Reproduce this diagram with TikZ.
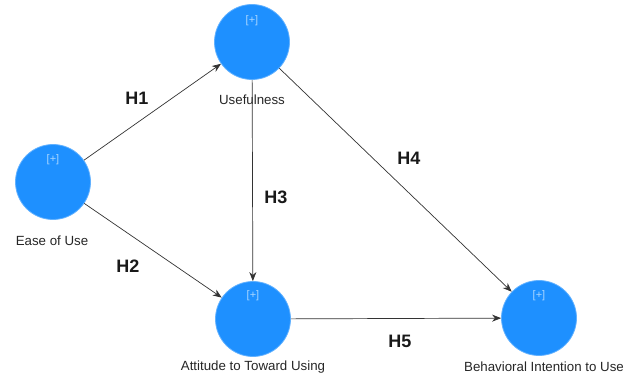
\documentclass[tikz,border=0pt]{standalone}
\usepackage{fontspec}
\setmainfont{Liberation Sans}
\usetikzlibrary{arrows.meta}
\definecolor{lvblue}{RGB}{30,144,255}
\definecolor{plus}{RGB}{170,215,255}
\tikzset{
  lv/.style={circle, fill=lvblue, draw=lvblue!70!white, line width=0.8pt, minimum size=75pt, inner sep=0pt},
  lbl/.style={font=\fontsize{13.3}{15}\selectfont, text=black!85},
  hyp/.style={font=\fontsize{18}{20}\selectfont\bfseries, text=black!90},
  pl/.style={font=\fontsize{11}{13}\selectfont, text=plus},
  path/.style={draw=black!80, line width=0.7pt, -{Stealth[length=9pt,width=7pt]}}
}
\begin{document}
\begin{tikzpicture}[x=1pt,y=-1pt]
\useasboundingbox (0,0) rectangle (632,379);
\node[lv] (eou) at (53,182) {};
\node[lv] (use) at (252,42) {};
\node[lv] (att) at (253,319) {};
\node[lv] (bi) at (539,318) {};
\node[pl] (p1) at (53,160) {[+]};
\node[pl] (p2) at (252,21) {[+]};
\node[pl] (p3) at (253,296) {[+]};
\node[pl] (p4) at (539,296) {[+]};
\node[lbl] (l1) at (52,241) {Ease of Use};
\node[lbl] (l2) at (252,100) {Usefulness};
\node[lbl] (l3) at (253,367) {Attitude to Toward Using};
\node[lbl] (l4) at (544,367) {Behavioral Intention to Use};
\draw[path] (eou) -- (use);
\draw[path] (eou) -- (att);
\draw[path] (use) -- (att);
\draw[path] (use) -- (bi);
\draw[path] (att) -- (bi);
\node[hyp] (h1) at (137,98) {H1};
\node[hyp] (h2) at (128,266) {H2};
\node[hyp] (h3) at (276,197) {H3};
\node[hyp] (h4) at (409,158) {H4};
\node[hyp] (h5) at (400,341) {H5};
\end{tikzpicture}
\end{document}
